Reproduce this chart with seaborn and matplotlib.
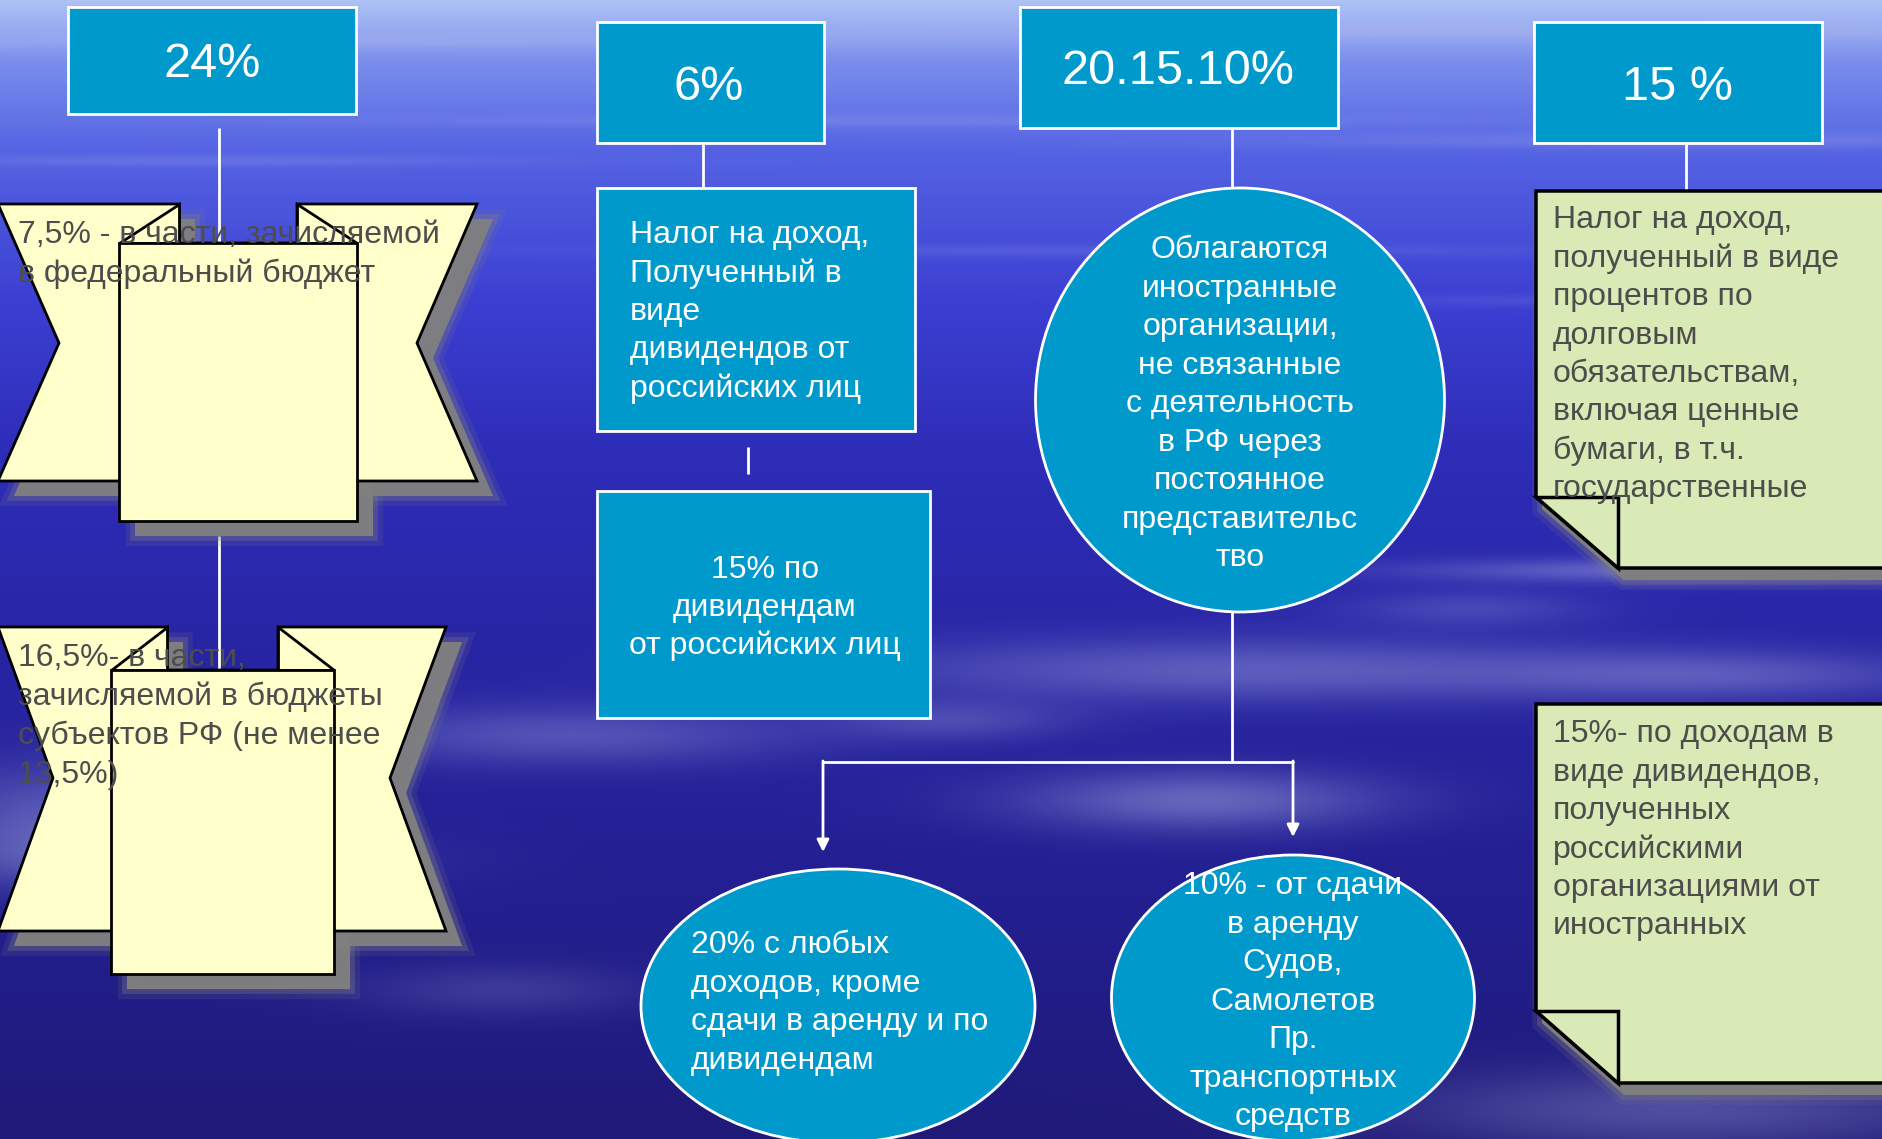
import numpy as np
import matplotlib
matplotlib.use("Agg")
import matplotlib.pyplot as plt
from matplotlib.patches import Polygon, Rectangle, Ellipse
import seaborn as sns

# tax rates in the header boxes
rates = ["24%", "6%", "20.15.10%", "15 %"]

# 24% branch
federal_text = ["7,5% - в части, зачисляемой", "в федеральный бюджет"]
regional_text = ["16,5%- в части,", "зачисляемой в бюджеты",
                 "субъектов РФ (не менее", "13,5%)"]

# 6% branch
dividend_text = ["Налог на доход,", "Полученный в", "виде",
                 "дивидендов от", "российских лиц"]
dividend_rate_text = ["15% по", "дивидендам", "от российских лиц"]

# 20.15.10% branch
foreign_text = ["Облагаются", "иностранные", "организации,", "не связанные",
                "с деятельность", "в РФ через", "постоянное",
                "представительс", "тво"]
general_text = ["20% с любых", "доходов, кроме", "сдачи в аренду и по",
                "дивидендам"]
lease_text = ["10% - от сдачи", "в аренду", "Судов,", "Самолетов", "Пр.",
              "транспортных", "средств"]

# 15 % branch
interest_text = ["Налог на доход,", "полученный в виде", "процентов по",
                 "долговым", "обязательствам,", "включая ценные",
                 "бумаги, в т.ч.", "государственные"]
foreign_div_text = ["15%- по доходам в", "виде дивидендов,", "полученных",
                    "российскими", "организациями от", "иностранных"]

W, H = 1882, 1139
BLUE = "#0099cc"
YELLOW = "#ffffcc"
GREEN = "#d9eab6"
INK = "#4d4d4d"
BODY = 23

sns.set_style("white")
plt.rcParams['font.family'] = ['Liberation Sans', 'DejaVu Sans']

fig = plt.figure(figsize=(W / 100, H / 100), dpi=100)
ax = fig.add_axes([0, 0, 1, 1])
ax.set_xlim(0, W)
ax.set_ylim(H, 0)
ax.axis('off')

# --- background: blue sky/water gradient with soft light streaks
sky = sns.blend_palette(["#aec2f6", "#7a8eec", "#5463e3", "#3c3fd2",
                         "#2e2db8", "#2825a4", "#231f90", "#1f1a78"], as_cmap=True)
stop_y = [0, 60, 150, 300, 450, 650, 900, 1139]
yy, xx = np.mgrid[0:H:2, 0:W:2].astype(float)
pos = np.interp(yy, stop_y, np.linspace(0, 1, len(stop_y)))
img = sky(pos)[..., :3]

streaks = [(300, 40, 500, 8, 0.30), (1500, 30, 600, 10, 0.35),
           (900, 120, 500, 6, 0.20), (1700, 140, 400, 8, 0.25),
           (200, 160, 300, 6, 0.20), (1100, 250, 500, 6, 0.15),
           (1650, 300, 300, 6, 0.15), (1700, 570, 280, 12, 0.45),
           (1250, 670, 380, 32, 0.38), (1720, 675, 220, 24, 0.30),
           (570, 735, 230, 30, 0.32), (1200, 800, 180, 30, 0.45),
           (60, 820, 130, 55, 0.38), (150, 860, 220, 30, 0.25),
           (1680, 1110, 280, 40, 0.32), (500, 990, 140, 25, 0.18),
           (1470, 608, 120, 18, 0.22), (950, 720, 120, 20, 0.25)]
glow = np.zeros_like(yy)
for cx, cy, rx, ry, s in streaks:
    glow += s * np.exp(-((xx - cx) / rx) ** 2 - ((yy - cy) / ry) ** 2)
glow = np.clip(glow, 0, 0.8)[..., None]
img = img * (1 - glow) + np.array([0.70, 0.72, 0.92]) * glow
ax.imshow(img, extent=(0, W, H, 0), aspect='auto', zorder=0,
          interpolation='bilinear')


def put_lines(x, y_first, step, lines, size, color, ha='left', z=8):
    cap = size * 100 / 72 * 0.716
    for i, s in enumerate(lines):
        ax.text(x, y_first + i * step + cap / 2, s, fontsize=size, color=color,
                ha=ha, va='baseline', zorder=z)


def vline(x, y0, y1, z=2):
    ax.plot([x, x], [y0, y1], color='white', lw=2, zorder=z,
            solid_capstyle='butt')


def blue_box(x0, y0, x1, y1):
    ax.add_patch(Rectangle((x0, y0), x1 - x0, y1 - y0, facecolor=BLUE,
                           edgecolor='white', lw=2, zorder=3))


def soft_shadow(pts, dx, dy, z):
    pts = [(px + dx, py + dy) for px, py in pts]
    for lw, a in [(14, 0.15), (7, 0.3), (0, 0.95)]:
        ax.add_patch(Polygon(pts, closed=True, facecolor="#808080",
                             edgecolor="#808080", lw=lw, alpha=a, zorder=z))


def ribbon(L, R, top, fold, mid, bot, rb, nl, nr, fl, fr, rl, rr):
    band = [(L, top), (fl, top), (fl, fold), (fr, fold), (fr, top), (R, top),
            (nr, mid), (R, bot), (L, bot), (nl, mid)]
    rect = [(rl, fold), (rr, fold), (rr, rb), (rl, rb)]
    soft_shadow(band, 16, 15, 3)
    soft_shadow(rect, 16, 15, 3)
    ax.add_patch(Polygon(band, closed=True, facecolor=YELLOW,
                         edgecolor='black', lw=2, zorder=4))
    for tri in ([(fl, top), (fl, fold), (rl, fold)],
                [(fr, top), (fr, fold), (rr, fold)]):
        ax.add_patch(Polygon(tri, closed=True, facecolor=YELLOW,
                             edgecolor='black', lw=2, zorder=4))
    ax.add_patch(Polygon(rect, closed=True, facecolor=YELLOW,
                         edgecolor='black', lw=2, zorder=5))


def note(x0, top, bot, fold_y, fold_x, x1=1905):
    body = [(x0, top), (x1, top), (x1, bot), (fold_x, bot), (x0, fold_y)]
    soft_shadow(body, 6, 12, 3)
    ax.add_patch(Polygon(body, closed=True, facecolor=GREEN,
                         edgecolor='black', lw=2.5, zorder=4))
    ax.add_patch(Polygon([(x0, fold_y), (fold_x, fold_y), (fold_x, bot)],
                         closed=True, facecolor=GREEN, edgecolor='black',
                         lw=2.5, zorder=5))


# --- header boxes
header_boxes = [(68, 7, 356, 114), (597, 22, 824, 143),
                (1020, 7, 1338, 128), (1534, 22, 1822, 143)]
header_centers = [(212, 60), (709, 83), (1178, 67), (1678, 83)]
for (x0, y0, x1, y1), (cx, cy), label in zip(header_boxes, header_centers, rates):
    blue_box(x0, y0, x1, y1)
    ax.text(cx, cy + 35 * 100 / 72 * 0.716 / 2, label, fontsize=35,
            color='white', ha='center', va='baseline', zorder=8)

# --- 24% column
vline(219, 128, 243)
vline(219, 536, 670)
ribbon(-2, 477, 204, 243, 343, 481, 521, 59, 417, 179, 297, 119, 357)
ribbon(-2, 446, 627, 670, 778, 931, 974, 53, 390, 167, 278, 111, 334)
put_lines(18, 232, 39, federal_text, 23, INK)
put_lines(18, 655, 39, regional_text, 23, INK)

# --- 6% column
vline(703, 143, 188)
blue_box(597, 188, 915, 431)
put_lines(630, 232, 38.3, dividend_text, BODY, 'white')
vline(748, 447, 474)
blue_box(597, 491, 930, 718)
put_lines(765, 567, 38, dividend_rate_text, BODY, 'white', ha='center')

# --- 20.15.10% column
vline(1232, 128, 189)
vline(1232, 612, 762)
ax.plot([823, 1293], [762, 762], color='white', lw=2, zorder=2)
for x, y_tip in [(823, 852), (1293, 837)]:
    ax.annotate("", xy=(x, y_tip), xytext=(x, 761),
                arrowprops=dict(arrowstyle='-|>', color='white', lw=2,
                                mutation_scale=18, shrinkA=0, shrinkB=0),
                zorder=2)
ax.add_patch(Ellipse((1240, 400), 409, 424, facecolor=BLUE,
                     edgecolor='white', lw=2, zorder=3))
put_lines(1240, 247, 38.5, foreign_text, BODY, 'white', ha='center')
ax.add_patch(Ellipse((838, 1006), 394, 274, facecolor=BLUE,
                     edgecolor='white', lw=2, zorder=3))
put_lines(691, 942, 38.5, general_text, BODY, 'white')
ax.add_patch(Ellipse((1293, 998), 363, 286, facecolor=BLUE,
                     edgecolor='white', lw=2, zorder=3))
put_lines(1293, 883, 38.5, lease_text, BODY, 'white', ha='center')

# --- 15 % column
vline(1686, 143, 191)
note(1536, 191, 568, 497, 1618)
put_lines(1553, 217, 38.4, interest_text, BODY, INK)
note(1536, 704, 1083, 1011, 1618)
put_lines(1553, 731, 38.4, foreign_div_text, BODY, INK)

fig.savefig("out.png", dpi=100)
